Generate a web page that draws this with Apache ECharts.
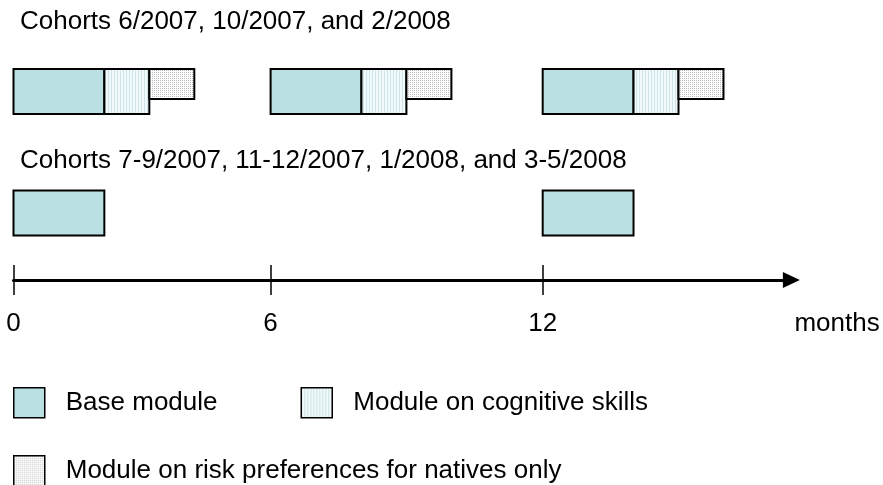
<!DOCTYPE html>
<html>
<head>
<meta charset="utf-8">
<script src="https://cdn.jsdelivr.net/npm/echarts@6.0.0/dist/echarts.min.js"></script>
<style>
  html, body { margin: 0; padding: 0; background: #fff; }
  #timeline { width: 883px; height: 485px; }
</style>
</head>
<body>
<div id="timeline"></div>
<script>
// rows of the diagram (cohort groups)
const rows = ['Cohorts 6/2007, 10/2007, and 2/2008', 'Cohorts 7-9/2007, 11-12/2007, 1/2008, and 3-5/2008'];
// tick positions as drawn, and their labels
const tickMonths = [0, 5.83, 12];
const tickLabels = ['0', '6', '12'];
// [start month, length in months, row index]
const baseModule = [[0, 2.06, 0], [5.83, 2.06, 0], [12, 2.06, 0], [0, 2.06, 1], [12, 2.06, 1]];
const cognitiveModule = [[2.06, 1.02, 0], [7.89, 1.02, 0], [14.06, 1.02, 0]];
const riskModule = [[3.08, 1.02, 0], [8.91, 1.02, 0], [15.08, 1.02, 0]];
const moduleNames = ['Base module', 'Module on cognitive skills', 'Module on risk preferences for natives only'];

const FONT = '"Liberation Sans", Arial, sans-serif';

function makePattern(w, h, bg, fg, cells) {
  const c = document.createElement('canvas');
  c.width = w;
  c.height = h;
  const ctx = c.getContext('2d');
  ctx.fillStyle = bg;
  ctx.fillRect(0, 0, w, h);
  ctx.fillStyle = fg;
  cells.forEach(function (p) { ctx.fillRect(p[0], p[1], p[2], p[3]); });
  return { image: c, repeat: 'repeat' };
}
// light vertical stripes / grey stipple
const stripeFill = makePattern(3, 3, '#f1f9fa', '#cde5e8', [[0, 0, 1, 3]]);
const dotFill = makePattern(2, 2, '#ffffff', '#bdbdbd', [[0, 0, 1, 1]]);
const baseFill = '#bae0e3';

function boxRenderer(boxHeight) {
  return function (params, api) {
    const p0 = api.coord([api.value(0), api.value(2)]);
    const p1 = api.coord([api.value(0) + api.value(1), api.value(2)]);
    const top = p0[1] - 22.5; // boxes in a row share the top edge
    return {
      type: 'rect',
      shape: { x: p0[0], y: top, width: p1[0] - p0[0], height: boxHeight },
      style: { fill: api.visual('color'), stroke: '#000', lineWidth: 2 }
    };
  };
}

let chart = echarts.init(document.getElementById('timeline'), null, { renderer: 'canvas' });

const option = {
  animation: false,
  backgroundColor: '#fff',
  textStyle: { fontFamily: FONT },
  grid: { left: 13.5, right: 91.6, top: 30.75, height: 243 },
  xAxis: [
    {
      type: 'value',
      min: 0,
      max: 17.64,
      position: 'bottom',
      offset: 6.25,
      splitLine: { show: false },
      axisLine: {
        show: true,
        symbol: ['none', 'triangle'],
        symbolSize: [16, 17],
        lineStyle: { color: '#000', width: 3 }
      },
      axisTick: { show: true, customValues: tickMonths, length: 15, lineStyle: { color: '#000', width: 1.5 } },
      axisLabel: {
        customValues: tickMonths,
        margin: 31,
        fontSize: 26,
        color: '#000',
        fontFamily: FONT,
        formatter: function (v) { return tickLabels[tickMonths.indexOf(v)]; }
      },
      name: 'months',
      nameLocation: 'end',
      nameGap: 3,
      nameTextStyle: { fontSize: 26, color: '#000', fontFamily: FONT, align: 'left', verticalAlign: 'top', padding: [31, 0, 0, 0] }
    },
    {
      // upper half of the tick marks
      type: 'value',
      min: 0,
      max: 17.64,
      position: 'bottom',
      offset: 6.25,
      splitLine: { show: false },
      axisLine: { show: false },
      axisTick: { show: true, inside: true, customValues: tickMonths, length: 15, lineStyle: { color: '#000', width: 1.5 } },
      axisLabel: { show: false }
    }
  ],
  yAxis: {
    type: 'category',
    data: rows,
    inverse: true,
    show: false
  },
  legend: [
    {
      data: [moduleNames[0], moduleNames[1]],
      left: 13,
      top: 387,
      padding: 0,
      icon: 'rect',
      itemWidth: 31,
      itemHeight: 30,
      itemGap: 83,
      selectedMode: false,
      itemStyle: { borderColor: '#000', borderWidth: 1.5 },
      textStyle: { fontSize: 26, color: '#000', fontFamily: FONT, padding: [0, 0, 0, 16] }
    },
    {
      data: [moduleNames[2]],
      left: 13,
      top: 455,
      padding: 0,
      icon: 'rect',
      itemWidth: 31,
      itemHeight: 30,
      selectedMode: false,
      itemStyle: { borderColor: '#000', borderWidth: 1.5 },
      textStyle: { fontSize: 26, color: '#000', fontFamily: FONT, padding: [0, 0, 0, 16] }
    }
  ],
  graphic: [
    { type: 'text', left: 20, top: 9, style: { text: rows[0], font: '26px ' + FONT, fill: '#000' } },
    { type: 'text', left: 20, top: 148, style: { text: rows[1], font: '26px ' + FONT, fill: '#000' } }
  ],
  series: [
    {
      name: moduleNames[0],
      type: 'custom',
      renderItem: boxRenderer(45),
      itemStyle: { color: baseFill },
      encode: { x: [0], y: 2 },
      data: baseModule
    },
    {
      name: moduleNames[1],
      type: 'custom',
      renderItem: boxRenderer(45),
      itemStyle: { color: stripeFill },
      encode: { x: [0], y: 2 },
      data: cognitiveModule
    },
    {
      name: moduleNames[2],
      type: 'custom',
      renderItem: boxRenderer(30),
      itemStyle: { color: dotFill },
      encode: { x: [0], y: 2 },
      data: riskModule
    }
  ]
};

chart.setOption(option);
</script>
</body>
</html>
